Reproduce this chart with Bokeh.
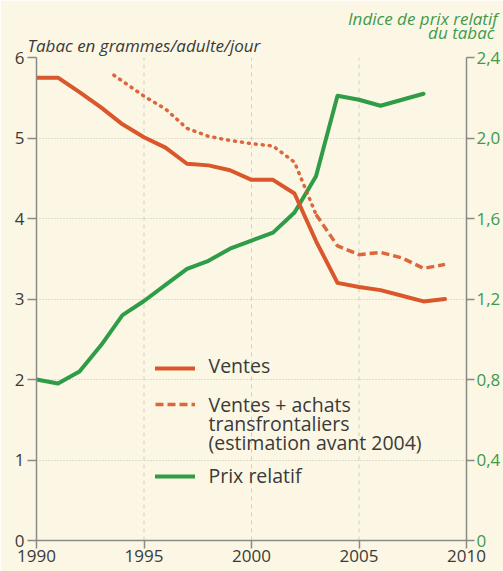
from bokeh.plotting import figure
from bokeh.models import Range1d, LinearAxis, FixedTicker, Legend, LegendItem, Label, Title
from bokeh.embed import file_html
from bokeh.resources import INLINE

# ---- data ----
years_ventes = [1990, 1991, 1992, 1993, 1994, 1995, 1996, 1997, 1998, 1999,
                2000, 2001, 2002, 2003, 2004, 2005, 2006, 2007, 2008, 2009]
ventes = [5.75, 5.75, 5.57, 5.38, 5.17, 5.01, 4.88, 4.68, 4.66, 4.60,
          4.48, 4.48, 4.31, 3.72, 3.20, 3.15, 3.11, 3.04, 2.97, 3.00]

years_total = [1993.6, 1995, 1996, 1997, 1998, 1999, 2000, 2001, 2002,
               2003, 2004, 2005, 2006, 2007, 2008, 2009]
ventes_total = [5.78, 5.52, 5.36, 5.12, 5.02, 4.97, 4.93, 4.90, 4.70,
                4.05, 3.66, 3.55, 3.58, 3.51, 3.38, 3.43]
split_index = 9  # dotted up to 2003 (estimate), dashed afterwards

years_prix = [1990, 1991, 1992, 1993, 1994, 1995, 1996, 1997, 1998, 1999,
              2000, 2001, 2002, 2003, 2004, 2005, 2006, 2007, 2008]
prix = [0.80, 0.78, 0.84, 0.97, 1.12, 1.19, 1.27, 1.35, 1.39, 1.45,
        1.49, 1.53, 1.63, 1.81, 2.21, 2.19, 2.16, 2.19, 2.22]

left_ticks = [0, 1, 2, 3, 4, 5, 6]
right_ticks = [0, 0.4, 0.8, 1.2, 1.6, 2.0, 2.4]
right_labels = ["0", "0,4", "0,8", "1,2", "1,6", "2,0", "2,4"]
x_ticks = [1990, 1995, 2000, 2005, 2010]
x_grid_ticks = [1995, 2000, 2005]

left_title = "Tabac en grammes/adulte/jour"
right_title_1 = "Indice de prix relatif"
right_title_2 = "du tabac"
legend_texts = ["Ventes", "Ventes + achats", "transfrontaliers",
                "(estimation avant 2004)", "Prix relatif"]

# ---- styles ----
BG = "#fbf7e4"
ORANGE = "#d9572a"
GREEN = "#2f9c48"
GREEN_TXT = "#3f9a4e"
TXT = "#3a3a3a"
AXIS = "#8a8a86"
FONT = "Open Sans"

p = figure(width=503, height=571, output_backend="svg", toolbar_location=None,
           title=None,
           x_range=Range1d(1990, 2010), y_range=Range1d(0, 6),
           min_border_left=36, min_border_right=34, min_border_top=57,
           min_border_bottom=31)
p.extra_y_ranges = {"prix": Range1d(0, 2.4)}
p.background_fill_color = BG
p.border_fill_color = BG
p.outline_line_color = None

# grids
p.ygrid.ticker = FixedTicker(ticks=left_ticks[1:])
p.ygrid.grid_line_color = "#c9c4b6"
p.ygrid.grid_line_dash = "1 2"
p.ygrid.grid_line_width = 1
p.xgrid.visible = False
n = len(x_grid_ticks)
p.segment(x0=x_grid_ticks, y0=[left_ticks[0]] * n, x1=x_grid_ticks,
          y1=[left_ticks[-1]] * n, line_color="#d3cec2", line_dash="4 4",
          line_width=1, level="underlay")

# axes
def style_axis(ax, color, size="17px"):
    ax.axis_line_color = AXIS
    ax.axis_line_width = 1.5
    ax.major_tick_line_color = AXIS
    ax.major_tick_line_width = 1.5
    ax.major_tick_out = 9
    ax.major_tick_in = 0
    ax.minor_tick_line_color = None
    ax.major_label_text_font = FONT
    ax.major_label_text_font_size = size
    ax.major_label_text_color = color
    ax.major_label_standoff = 3

p.yaxis.ticker = FixedTicker(ticks=left_ticks)
style_axis(p.yaxis[0], TXT)
p.xaxis.ticker = FixedTicker(ticks=x_ticks)
style_axis(p.xaxis[0], TXT)
p.xaxis.major_tick_out = 8
p.xaxis.major_label_standoff = 1

right = LinearAxis(y_range_name="prix", ticker=FixedTicker(ticks=right_ticks))
right.major_label_overrides = {t: l for t, l in zip(right_ticks, right_labels)}
style_axis(right, GREEN_TXT, "17px")
right.major_tick_out = 8
right.major_label_standoff = 2
p.add_layout(right, "right")

# lines
r_prix = p.line(years_prix, prix, y_range_name="prix", line_color=GREEN,
                line_width=4, line_join="round", line_cap="round")
r_ventes = p.line(years_ventes, ventes, line_color=ORANGE, line_width=4,
                  line_join="round", line_cap="round")
r_tot1 = p.line(years_total[:split_index + 1], ventes_total[:split_index + 1],
                line_color=ORANGE, line_width=3.5, line_dash="1 6",
                line_cap="round", line_alpha=0.9)
r_tot2 = p.line(years_total[split_index:], ventes_total[split_index:],
                line_color=ORANGE, line_width=3.5, line_dash="8 4",
                line_alpha=0.9)
r_blank = p.line([], [], line_alpha=0)

# legend glyph samples; texts are drawn as labels
legend = Legend(items=[LegendItem(label=" ", renderers=[r])
                       for r in [r_ventes, r_tot2, r_blank, r_prix]],
                location=(119, 46))
legend.background_fill_alpha = 0
legend.border_line_color = None
legend.label_text_font_size = "12px"
legend.label_height = 36
legend.label_width = 232
legend.glyph_width = 40
legend.glyph_height = 18
legend.label_standoff = 6
legend.spacing = 0
legend.padding = 4
legend.margin = 0
p.add_layout(legend, "center")

legend_offsets = [175, 136, 117, 98, 65]
for t, dy in zip(legend_texts, legend_offsets):
    p.add_layout(Label(x=1990, y=0, x_offset=172, y_offset=dy, text=t,
                       text_font=FONT, text_font_size="19.5px",
                       text_color=TXT, text_baseline="middle",
                       text_align="left", level="overlay"))

# axis titles (first added sits closest to the frame)
tkw = dict(text_font=FONT, text_font_style="italic", text_font_size="17px",
           vertical_align="bottom")
p.add_layout(Title(text=left_title, align="left", offset=-9, standoff=1,
                   text_color=TXT, **tkw), "above")
p.add_layout(Title(text=right_title_2, align="right", offset=-28, standoff=-25,
                   text_color=GREEN_TXT, **tkw), "above")
p.add_layout(Title(text=right_title_1, align="right", offset=-31, standoff=4,
                   text_color=GREEN_TXT, **tkw), "above")

open("out.html", "w").write(file_html(p, INLINE))
